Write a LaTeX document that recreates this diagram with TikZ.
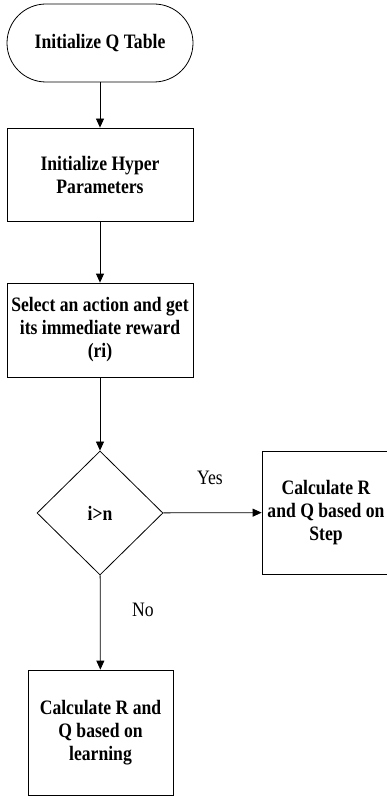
\documentclass[tikz,border=0pt]{standalone}
\usepackage{fontspec}
\setmainfont{Liberation Serif}[FakeStretch=0.86]
\usetikzlibrary{arrows.meta,positioning,shapes.geometric}

\begin{document}
\begin{tikzpicture}[x=1pt,y=-1pt,line width=0.8pt,
    every node/.style={align=center},
    box/.style={draw,rectangle,font=\fontsize{20.5}{23}\selectfont\bfseries},
    flow/.style={-{Triangle[length=9pt,width=8pt]}}]
    \useasboundingbox (0,0) rectangle (386,799);
    \node[box,rounded corners=39pt,minimum width=186pt,minimum height=78pt] (init) at (100,43) {Initialize Q Table};
    \node[box,minimum width=186pt,minimum height=93pt] (hyper) at (100,174.5) {Initialize Hyper\\Parameters};
    \node[box,minimum width=186pt,minimum height=94pt] (select) at (100,330) {Select an action and get\\its immediate reward\\(ri)};
    \node[box,diamond,inner sep=0pt,minimum width=126pt,minimum height=124pt] (check) at (100,513) {i>n};
    \node[box,minimum width=128pt,minimum height=123pt] (step) at (326,512.5) {Calculate R\\and Q based on\\Step};
    \node[box,minimum width=145pt,minimum height=125pt] (learn) at (100.5,732.5) {Calculate R and\\Q based on\\learning};
    \draw[flow] (init) -- (hyper);
    \draw[flow] (hyper) -- (select);
    \draw[flow] (select) -- (check);
    \draw[flow] (check) -- (step);
    \draw[flow] (check) -- (learn);
    \node[font=\fontsize{20.5}{23}\selectfont] (yes) at (210,478) {Yes};
    \node[font=\fontsize{20.5}{23}\selectfont] (no) at (143,610) {No};
  \end{tikzpicture}
\end{document}
